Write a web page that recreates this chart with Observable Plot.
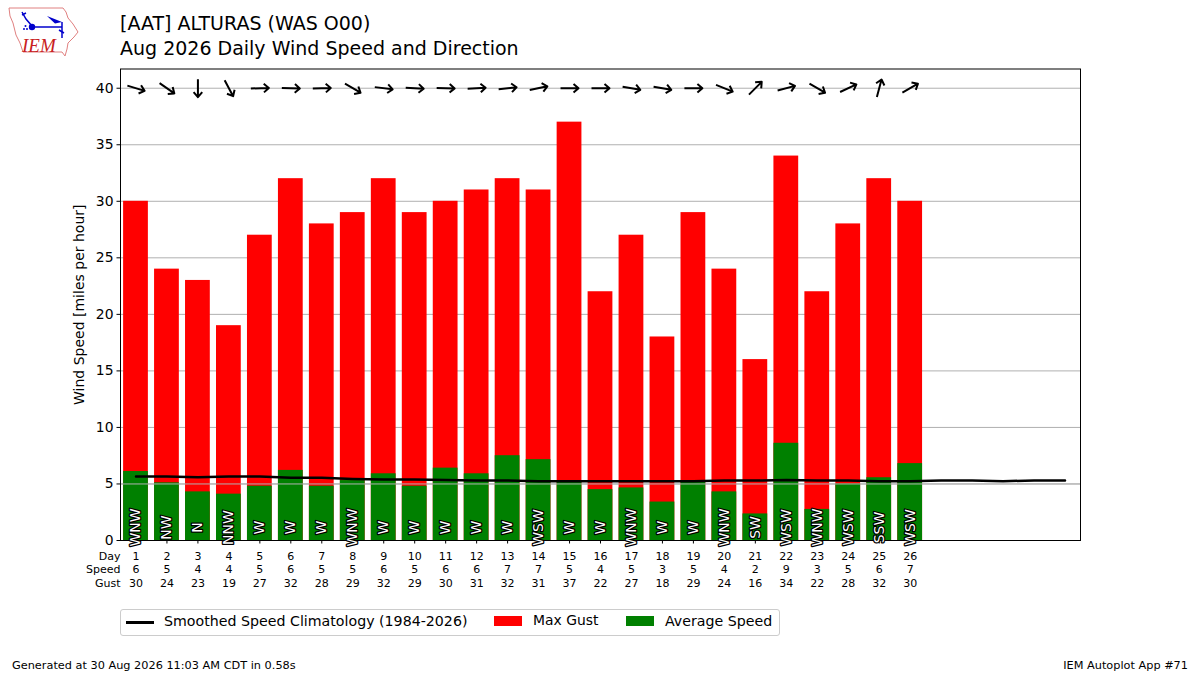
<!DOCTYPE html>
<html><head><meta charset="utf-8">
<script src="https://cdn.jsdelivr.net/npm/d3@7"></script>
<script src="https://cdn.jsdelivr.net/npm/@observablehq/plot@0.6"></script>
<style>
html,body{margin:0;padding:0;background:#fff;font-family:"DejaVu Sans",sans-serif;color:#000}
#wrap{position:relative;width:1200px;height:675px;overflow:hidden}
#chart{position:absolute;left:0;top:0}
.t{position:absolute;white-space:nowrap;line-height:1}
#legend{position:absolute;left:120px;top:609px;width:658px;height:25px;border:1px solid #ccc;border-radius:3px;box-sizing:content-box}
#legend span{position:absolute;white-space:nowrap;font-size:14.2px;line-height:1;top:4px}
#legend i{position:absolute;display:block}
#logo{position:absolute;left:8px;top:5px}
</style></head><body>
<div id="wrap">
<div id="chart"></div>
<svg id="logo" width="72" height="54" viewBox="8 5 72 54">
<path d="M9 8 L63 8 L66 12 L68 18 L73 24 L78 32 L74 37 L68 43 L67 49 L65 56 L62 52 L23 52 L20 43 L16 35 L13 23 L10 16 Z" fill="none" stroke="#e08080" stroke-width="1"/>
<g stroke="#0000cc" fill="none" stroke-width="1.5"><path d="M22 12 L26 19 L32 26"/><path d="M22 15 L26 13"/><path d="M32 27 L62 27"/><path d="M62 22 L62 38"/><path d="M59 30 L64 33"/></g>
<circle cx="32" cy="27" r="3.2" fill="#0000cc"/><path d="M47 16 L62 22 L55 23.5 Z" fill="#0000cc"/>
<circle cx="24" cy="29" r="1" fill="#0000cc"/><circle cx="27" cy="29" r="1" fill="#0000cc"/><circle cx="25.5" cy="26" r="1" fill="#0000cc"/>
<text x="22" y="52" font-family="Liberation Serif" font-style="italic" font-size="19" fill="#c82020">IEM</text>
</svg>
<div class="t" style="left:120px;top:14px;font-size:19px">[AAT] ALTURAS (WAS O00)</div>
<div class="t" style="left:120px;top:39px;font-size:19px">Aug 2026 Daily Wind Speed and Direction</div>
<div id="legend">
<i style="left:5px;top:11px;width:28px;height:2.5px;background:#000"></i><span style="left:43px">Smoothed Speed Climatology (1984-2026)</span>
<i style="left:373px;top:6px;width:28px;height:10px;background:#ff0000"></i><span style="left:412px;font-size:13.9px;top:4.4px">Max Gust</span>
<i style="left:505px;top:6px;width:28px;height:10px;background:#008000"></i><span style="left:544px">Average Speed</span>
</div>
<div class="t" style="left:12px;top:660px;font-size:11.3px">Generated at 30 Aug 2026 11:03 AM CDT in 0.58s</div>
<div class="t" style="right:12px;top:660px;font-size:11.3px">IEM Autoplot App #71</div>
</div>
<script>
const days = [1,2,3,4,5,6,7,8,9,10,11,12,13,14,15,16,17,18,19,20,21,22,23,24,25,26];
const avgSpeed = [6.1,5.1,4.3,4.1,4.8,6.2,4.8,5.3,5.9,4.8,6.4,5.9,7.5,7.15,5.3,4.5,4.65,3.4,5.3,4.3,2.35,8.6,2.75,5.0,5.55,6.8];
const speedLabels = [6,5,4,4,5,6,5,5,6,5,6,6,7,7,5,4,5,3,5,4,2,9,3,5,6,7];
const gust = [30,24,23,19,27,32,28,29,32,29,30,31,32,31,37,22,27,18,29,24,16,34,22,28,32,30];
const dirLabels = ["WNW","NW","N","NNW","W","W","W","WNW","W","W","W","W","W","WSW","W","W","WNW","W","W","WNW","SW","WSW","WNW","WSW","SSW","WSW"];
const arrowHeading = [107,125,180,152,88,92,88,120,97,93,91,87,84,78,90,90,100,100,90,112,45,75,120,65,15,60];
const climoDays = [1,2,3,4,5,6,7,8,9,10,11,12,13,14,15,16,17,18,19,20,21,22,23,24,25,26,27,28,29,30,31];
const climo = [5.65,5.65,5.6,5.65,5.65,5.55,5.55,5.45,5.4,5.4,5.35,5.3,5.3,5.25,5.25,5.25,5.25,5.25,5.25,5.3,5.3,5.35,5.3,5.3,5.25,5.25,5.3,5.3,5.25,5.3,5.3];
const yTicks = [0,5,10,15,20,25,30,35,40];
const rowNames = ["Day","Speed","Gust"];

const arrowShape = {draw(c, l){
  c.moveTo(0,0); c.lineTo(0,-l);
  c.moveTo(-4.3,-l+5); c.lineTo(0,-l); c.lineTo(4.3,-l+5);
}};
const rows = [days, speedLabels, gust];
const rowDy = [15.5, 29, 42.5];

const plot = Plot.plot({
  width:1200, height:675,
  marginLeft:120, marginRight:120, marginTop:68.5, marginBottom:135,
  style:{fontFamily:"'DejaVu Sans',sans-serif",background:"transparent",overflow:"visible"},
  x:{domain:[0.5,31.5],range:[120,1080]},
  y:{domain:[0,41.7]},
  marks:[
    Plot.ruleY(yTicks,{stroke:"#b0b0b0",strokeWidth:1}),
    Plot.rectY(days,{x1:d=>d-0.4,x2:d=>d+0.4,y1:()=>0,y2:(d,i)=>gust[i],fill:"#ff0000"}),
    Plot.rectY(days,{x1:d=>d-0.4,x2:d=>d+0.4,y1:()=>0,y2:(d,i)=>avgSpeed[i],fill:"#008000"}),
    Plot.ruleY([5],{stroke:"#b0b0b0",strokeWidth:1}),
    Plot.lineY(climoDays,{x:d=>d,y:(d,i)=>climo[i],stroke:"#000",strokeWidth:2.5,curve:"linear"}),
    Plot.frame({stroke:"#000",strokeWidth:1}),
    Plot.axisY({ticks:yTicks,tickSize:3.5,tickPadding:3.5,fontSize:13.9,stroke:"#000",label:null,tickFormat:d=>d}),
    Plot.text(["Wind Speed [miles per hour]"],{text:d=>d,frameAnchor:"left",dx:-41,rotate:-90,textAnchor:"middle",fontSize:14,fill:"#000"}),
    Plot.axisX({ticks:days,tickSize:3.5,tickFormat:()=>"",label:null,stroke:"#000"}),
    Plot.vector(days,{x:d=>d,y:()=>40,rotate:(d,i)=>arrowHeading[i],length:18,anchor:"middle",shape:arrowShape,stroke:"#000",strokeWidth:2,strokeLinecap:"butt"}),
    Plot.text(days,{x:d=>d,y:()=>1.15,text:(d,i)=>dirLabels[i],rotate:-90,fontSize:14,fill:"#fff",stroke:"#000",strokeWidth:2.5,paintOrder:"stroke"}),
    ...rows.map((r,k)=>Plot.text(days,{x:d=>d,text:(d,i)=>String(r[i]),frameAnchor:"bottom",dy:rowDy[k],fontSize:11,fill:"#000",lineAnchor:"middle"})),
    ...rowNames.map((n,k)=>Plot.text([n],{x:()=>0.5,text:d=>d,frameAnchor:"bottom",dy:rowDy[k],fontSize:11,fill:"#000",textAnchor:"end",lineAnchor:"middle"}))
  ]
});
document.getElementById("chart").appendChild(plot);
</script>
</body></html>
